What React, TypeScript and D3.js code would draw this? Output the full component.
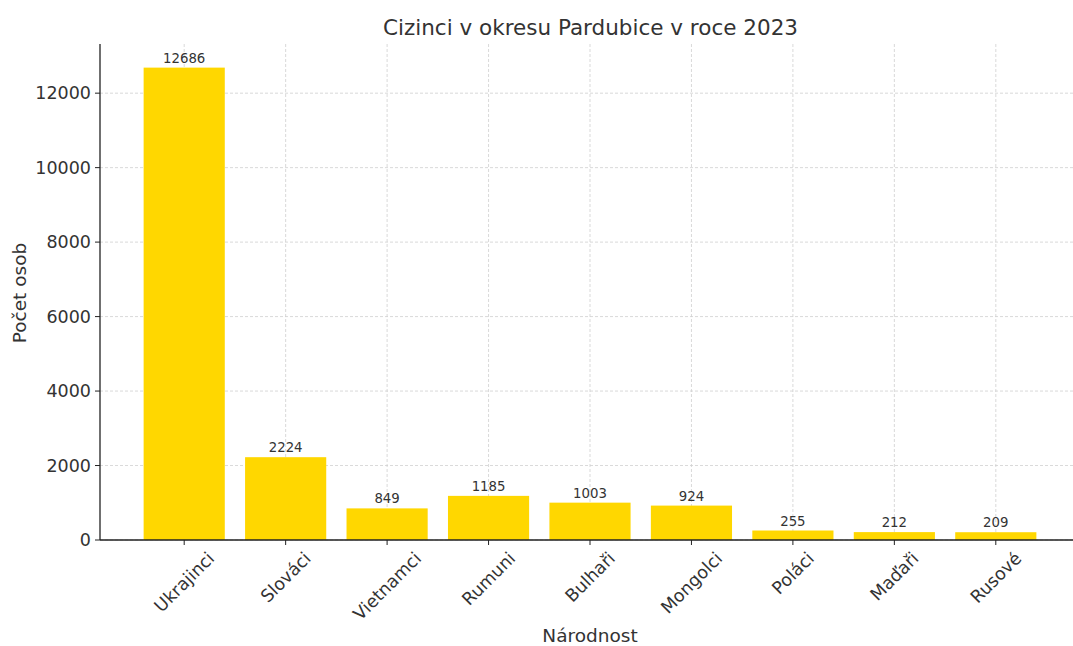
import React from "react";
import * as d3 from "d3";

const categories = ["Ukrajinci", "Slováci", "Vietnamci", "Rumuni", "Bulhaři", "Mongolci", "Poláci", "Maďaři", "Rusové"];
const values = [12686, 2224, 849, 1185, 1003, 924, 255, 212, 209];
const yTicks = [0, 2000, 4000, 6000, 8000, 10000, 12000];
const title = "Cizinci v okresu Pardubice v roce 2023";
const xLabel = "Národnost";
const yLabel = "Počet osob";

const W = 1073, H = 646;
const left = 100, bottom = 540, top = 44, right = 1080;
const font = "DejaVu Sans, sans-serif";
const textColor = "#333";
const tickFont = 17.5;

function measure(text: string, size: number): number {
  try {
    const c = document.createElement("canvas").getContext("2d");
    if (c) {
      c.font = `${size}px "DejaVu Sans"`;
      return c.measureText(text).width;
    }
  } catch (e) {}
  return text.length * size * 0.6;
}

export default function App() {
  const x = d3.scaleLinear().domain([-0.83, categories.length - 1 + 0.83]).range([left, right]);
  const y = d3.scaleLinear().domain([0, d3.max(values)! * 1.05]).range([bottom, top]);
  const bw = (x(1) - x(0)) * 0.8;
  return (
    <svg width={W} height={H} style={{ position: "absolute", left: 0, top: 0, background: "#fff" }}>
      <rect x={0} y={0} width={W} height={H} fill="#fff" />
      {yTicks.map((t) => (
        <line key={"gy" + t} x1={left} x2={right} y1={y(t)} y2={y(t)} stroke="#cfcfcf" strokeDasharray="3,2" strokeWidth={0.8} />
      ))}
      {categories.map((c, i) => (
        <line key={"gx" + c} x1={x(i)} x2={x(i)} y1={top} y2={bottom} stroke="#cfcfcf" strokeDasharray="3,2" strokeWidth={0.8} />
      ))}
      {values.map((v, i) => (
        <rect key={"b" + i} x={x(i) - bw / 2} y={y(v)} width={bw} height={bottom - y(v)} fill="#FFD700" />
      ))}
      {values.map((v, i) => (
        <text key={"v" + i} x={x(i)} y={y(v) - 5} textAnchor="middle" fontFamily={font} fontSize={13.3} fill={textColor}>
          {v}
        </text>
      ))}
      <line x1={left} x2={left} y1={top} y2={bottom} stroke="#222" strokeWidth={1.3} />
      <line x1={left} x2={right} y1={bottom} y2={bottom} stroke="#222" strokeWidth={1.3} />
      {yTicks.map((t) => (
        <g key={"ty" + t}>
          <line x1={left - 5} x2={left} y1={y(t)} y2={y(t)} stroke="#222" strokeWidth={1} />
          <text x={left - 9} y={y(t)} dy="0.35em" textAnchor="end" fontFamily={font} fontSize={tickFont} fill={textColor}>
            {t}
          </text>
        </g>
      ))}
      {categories.map((c, i) => {
        const L = measure(c, tickFont);
        const half = ((L + tickFont * 1.0) * Math.SQRT1_2) / 2;
        return (
          <g key={"tx" + c}>
            <line x1={x(i)} x2={x(i)} y1={bottom} y2={bottom + 5} stroke="#222" strokeWidth={1} />
            <text
              transform={`translate(${x(i)},${bottom + 9 + half}) rotate(-45)`}
              textAnchor="middle"
              dy="0.35em"
              fontFamily={font}
              fontSize={tickFont}
              fill={textColor}
            >
              {c}
            </text>
          </g>
        );
      })}
      <text x={590} y={642} textAnchor="middle" fontFamily={font} fontSize={18.5} fill={textColor}>
        {xLabel}
      </text>
      <text transform={`translate(26,${293}) rotate(-90)`} textAnchor="middle" fontFamily={font} fontSize={18.5} fill={textColor}>
        {yLabel}
      </text>
      <text x={590.5} y={35} textAnchor="middle" fontFamily={font} fontSize={21.5} fill={textColor}>
        {title}
      </text>
    </svg>
  );
}
